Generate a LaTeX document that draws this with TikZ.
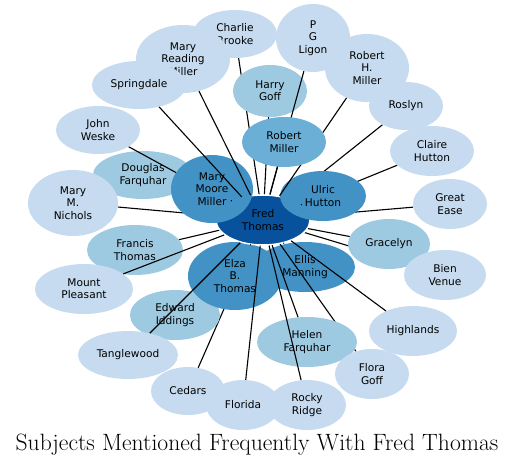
\documentclass[tikz,border=0pt]{standalone}
\usepackage{fontspec}
\newfontfamily\dvs{DejaVu Sans}
\usetikzlibrary{shapes.geometric}
\definecolor{bA}{HTML}{C6DBEF}
\definecolor{bB}{HTML}{9ECAE1}
\definecolor{bC}{HTML}{6BAED6}
\definecolor{bD}{HTML}{4292C6}
\definecolor{bE}{HTML}{08519C}
\pgfdeclarelayer{lzero}
\pgfdeclarelayer{lone}
\pgfdeclarelayer{ltwo}
\pgfdeclarelayer{lthree}
\pgfdeclarelayer{lfour}
\pgfsetlayers{lzero,lone,ltwo,lthree,lfour,main}
\begin{document}
\begin{tikzpicture}[x=1pt,y=-1pt,
  bub/.style={ellipse, inner sep=0pt, align=center, text=black,
    font=\dvs\fontsize{10.6}{12.3}\selectfont},
  sz/.style 2 args={minimum width=2*#1, minimum height=2*#2},
  lnk/.style={line width=1.1pt, black},
  dotmark/.style={fill=black}]
\useasboundingbox (0,0) rectangle (516,466);

\begin{pgfonlayer}{lzero}
\node[bub, sz={50}{24}, fill=bB] (df) at (143,175) {Douglas\\Farquhar};
\node[bub, sz={50}{25}, fill=bD] (em) at (305,267) {Ellis\\Manning};
\end{pgfonlayer}

\begin{pgfonlayer}{ltwo}
\node[bub, sz={42}{24}, fill=bA] (cb) at (235,34) {Charlie\\Brooke};
\node[bub, sz={37}{34}, fill=bA] (pgl) at (313,38) {P\\G\\Ligon};
\node[bub, sz={37}{26}, fill=bB] (hg) at (270,91) {Harry\\Goff};
\node[bub, sz={47}{34}, fill=bA] (mrm) at (183,59) {Mary\\Reading\\Miller};
\node[bub, sz={47}{24}, fill=bA] (spr) at (139,85) {Springdale};
\node[bub, sz={42}{34}, fill=bA] (rhm) at (367,68) {Robert\\H.\\Miller};
\node[bub, sz={37}{24}, fill=bA] (ros) at (406,106) {Roslyn};
\node[bub, sz={42}{25}, fill=bA] (ch) at (432,151) {Claire\\Hutton};
\node[bub, sz={37}{25}, fill=bA] (ge) at (450,204) {Great\\Ease};
\node[bub, sz={41}{25}, fill=bB] (gr) at (389,244) {Gracelyn};
\node[bub, sz={41}{25}, fill=bA] (bv) at (445,275) {Bien\\Venue};
\node[bub, sz={42}{24}, fill=bA] (jw) at (98,130) {John\\Weske};
\node[bub, sz={45}{33}, fill=bA] (mmn) at (73,203) {Mary\\M.\\Nichols};
\node[bub, sz={48}{25}, fill=bB] (fth) at (135,250) {Francis\\Thomas};
\node[bub, sz={49}{25}, fill=bA] (mp) at (84,289) {Mount\\Pleasant};
\node[bub, sz={45}{25}, fill=bB] (ei) at (175,315) {Edward\\Iddings};
\node[bub, sz={47}{34}, fill=bD] (ebt) at (235,276) {Elza\\B.\\Thomas};
\node[bub, sz={50}{24}, fill=bA] (tw) at (128,355) {Tanglewood};
\node[bub, sz={37}{24}, fill=bA] (ced) at (188,391) {Cedars};
\node[bub, sz={37}{25}, fill=bA] (fl) at (243,405) {Florida};
\node[bub, sz={39}{25}, fill=bA] (rr) at (307,405) {Rocky\\Ridge};
\node[bub, sz={50}{25}, fill=bB] (hf) at (307,342) {Helen\\Farquhar};
\node[bub, sz={37}{25}, fill=bA] (fg) at (372,374) {Flora\\Goff};
\node[bub, sz={44}{25}, fill=bA] (hl) at (413,331) {Highlands};
\node[bub, sz={47}{25}, fill=bE, draw=white, line width=1.5pt] (fred) at (263,220) {Fred\\Thomas};
\node[bub, sz={43}{25}, fill=bD] (ul) at (323,196) {Ulric\\Hutton};
\node[bub, sz={41}{34}, fill=bD] (mmm) at (212,189) {Mary\\Moore\\Miller};
\end{pgfonlayer}

\begin{pgfonlayer}{lfour}
\node[bub, sz={42}{25}, fill=bC] (rm) at (284,142) {Robert\\Miller};
\end{pgfonlayer}

\begin{pgfonlayer}{lone}
\foreach \t in {jw,df,mmn,ced,ei,ros,ch,ge,bv,cb,hg,fg}
  \draw[lnk] (fred) -- (\t);
\end{pgfonlayer}

\begin{pgfonlayer}{lthree}
\foreach \t in {pgl,rhm}
  \draw[lnk] (fred) -- (\t);
\end{pgfonlayer}

\foreach \t in {rm,spr,mrm,tw,fl,hf,hl,rr,gr,mp,fth}
  \draw[lnk] (fred) -- (\t);
\foreach \t in {mmm,ul,ebt,em}{
  \path (fred) -- (\t) coordinate[pos=0] (d\t);
  \fill[dotmark] (d\t) circle (0.7pt);
}

\node[font=\fontsize{23.6}{28}\selectfont, anchor=base] (title) at (257,450)
  {Subjects Mentioned Frequently With Fred Thomas};
\end{tikzpicture}
\end{document}
